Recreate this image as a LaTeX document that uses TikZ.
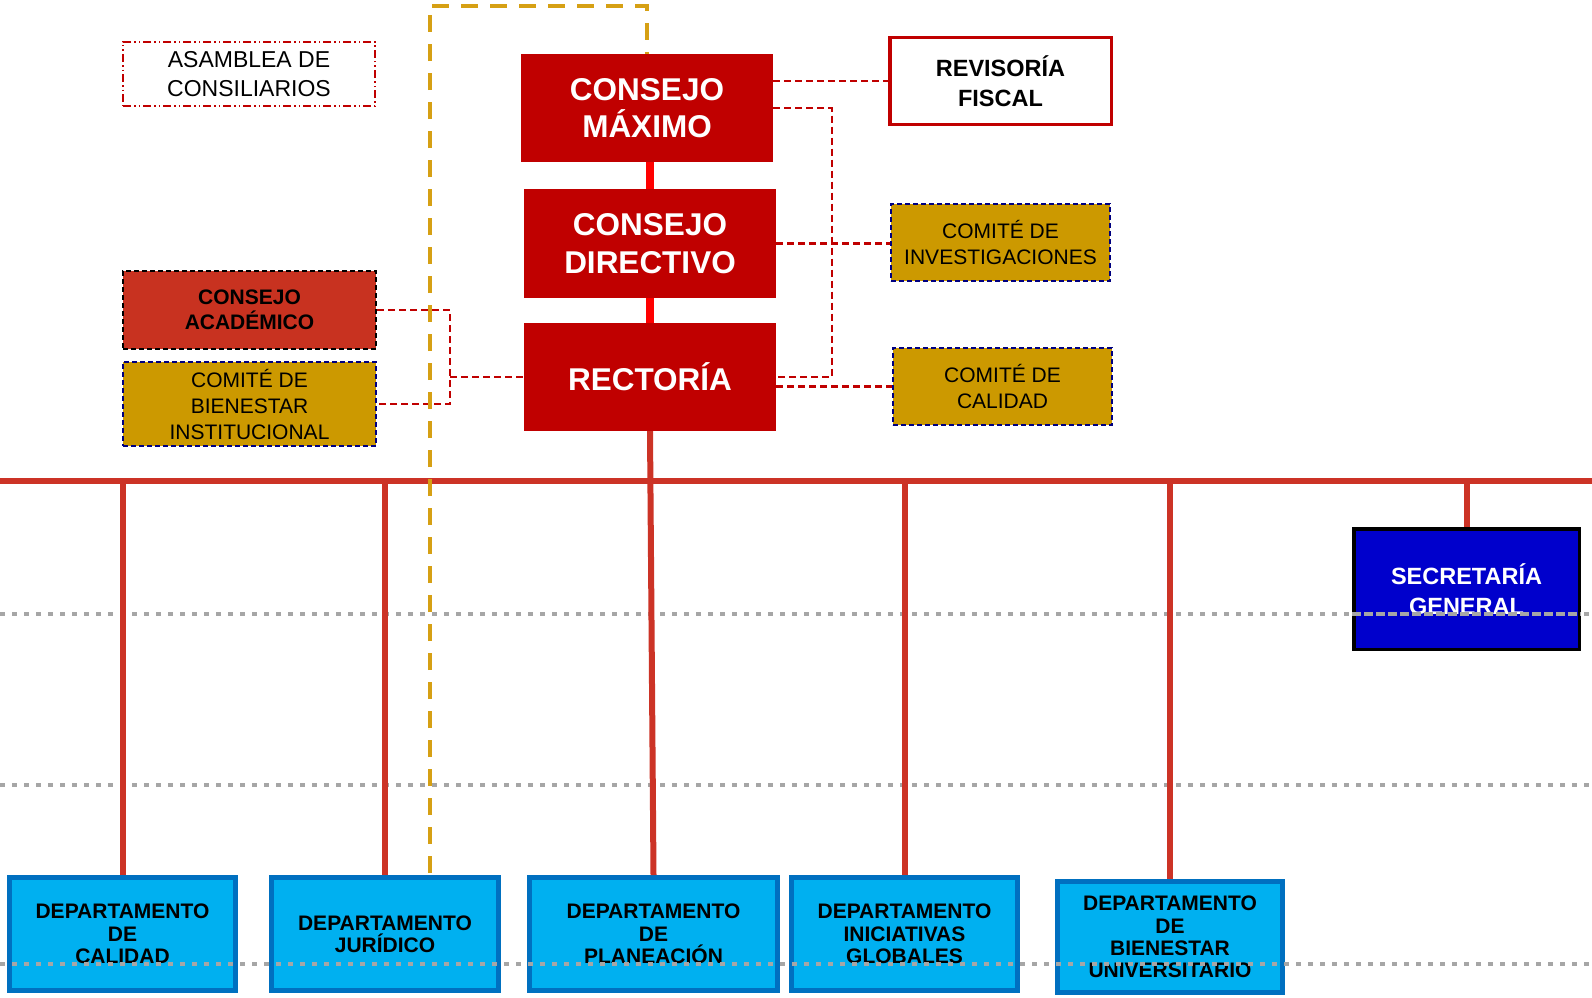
\documentclass[tikz,border=0pt]{standalone}
\usepackage{fontspec}
\setmainfont{Liberation Sans}
\definecolor{rojoosc}{RGB}{192,0,0}
\definecolor{rojovivo}{RGB}{255,0,0}
\definecolor{rojobus}{RGB}{204,51,38}
\definecolor{rojoacad}{RGB}{200,50,32}
\definecolor{oro}{RGB}{204,153,0}
\definecolor{orolinea}{RGB}{214,160,20}
\definecolor{marino}{RGB}{0,0,128}
\definecolor{celeste}{RGB}{0,176,240}
\definecolor{azulborde}{RGB}{0,112,192}
\definecolor{azulsec}{RGB}{0,0,204}
\definecolor{gris}{RGB}{166,166,166}
\begin{document}
\begin{tikzpicture}[x=1pt, y=-1pt, line join=miter,
	mando/.style={fill=rojoosc, text=white, inner sep=0pt, align=center,
		minimum width=252pt, minimum height=108pt,
		font=\fontsize{31.5}{37.5}\selectfont\bfseries},
	comite/.style={fill=oro, draw=marino, line width=2pt, dash pattern=on 5pt off 3pt,
		inner sep=0pt, align=center, minimum width=219pt, minimum height=77pt,
		font=\fontsize{21}{26}\selectfont},
	depto/.style={fill=celeste, draw=azulborde, line width=5pt, inner sep=0pt,
		align=center, minimum width=226pt, minimum height=113pt,
		font=\fontsize{21}{22.3}\selectfont\bfseries},
	enlace/.style={rojoosc, line width=2.4pt, dash pattern=on 7pt off 4pt},
	bus/.style={rojobus, line width=6pt},
	guia/.style={gris, line width=4.5pt, dash pattern=on 4.5pt off 7.5pt}]
	\useasboundingbox (0,0) rectangle (1592,998);
	\node[draw=rojoosc, line width=1.6pt, dash pattern=on 8pt off 3pt on 1.5pt off 3pt on 1.5pt off 3pt,
		minimum width=252pt, minimum height=64pt, inner sep=0pt, align=center,
		font=\fontsize{23}{29.5}\selectfont] (asa) at (249,74) {ASAMBLEA DE\\CONSILIARIOS};
	\node[mando] (cm) at (647,108) {CONSEJO\\MÁXIMO};
	\node[mando, minimum height=109pt] (cd) at (650,243.5) {CONSEJO\\DIRECTIVO};
	\node[mando] (rec) at (650,377) {RECTORÍA};
	\node[draw=rojoosc, line width=3.5pt, minimum width=221.5pt, minimum height=86.5pt,
		inner sep=0pt, align=center, font=\fontsize{23.5}{29.5}\selectfont\bfseries]
		(rev) at (1000.5,81) {REVISORÍA\\FISCAL};
	\node[comite] (ci) at (1000.5,242.5) {COMITÉ DE\\INVESTIGACIONES};
	\node[comite] (cc) at (1002.5,386.5) {COMITÉ DE\\CALIDAD};
	\node[fill=rojoacad, draw=black, line width=2pt, dash pattern=on 5pt off 3pt,
		minimum width=253pt, minimum height=78pt, inner sep=0pt, align=center,
		font=\fontsize{21}{25.4}\selectfont\bfseries] (ca) at (249.5,310) {CONSEJO\\ACADÉMICO};
	\node[comite, minimum width=253pt, minimum height=84pt] (bi) at (249.5,404)
		{COMITÉ DE\\BIENESTAR\\INSTITUCIONAL};
	\node[fill=azulsec, draw=black, line width=3.5pt, text=white, minimum width=225.5pt,
		minimum height=120.5pt, inner sep=0pt, align=center,
		font=\fontsize{23.5}{29.5}\selectfont\bfseries] (sec) at (1466.5,589) {SECRETARÍA\\GENERAL};
	\node[depto] (cal) at (122.5,934) {DEPARTAMENTO\\DE\\CALIDAD};
	\node[depto, minimum width=227pt] (jur) at (385,934) {DEPARTAMENTO\\JURÍDICO};
	\node[depto, minimum width=248pt] (pla) at (653.5,934) {DEPARTAMENTO\\DE\\PLANEACIÓN};
	\node[depto] (ini) at (904.5,934) {DEPARTAMENTO\\INICIATIVAS\\GLOBALES};
	\node[depto, minimum width=225pt, minimum height=111pt] (bun) at (1170,937)
		{DEPARTAMENTO\\DE\\BIENESTAR\\UNIVERSITARIO};
	\draw[rojovivo, line width=8pt] (cd.north |- cm.south) -- (cd.north) (cd.south) -- (rec.north);
	\draw[enlace] (cm.east |- rev.west) -- (rev.west);
	\draw[enlace] (cm.east) -- ++(58.5,0) |- (rec.east);
	\draw[enlace] (cd.east) -- (cd.east -| ci.west);
	\draw[enlace] (rec.east |- cc.west) -- (cc.west);
	\coordinate (jl) at (450,377);
	\draw[enlace] (ca.east) -| (jl) |- (bi.east);
	\draw[enlace] (jl) -- (rec.west);
	\foreach \y in {614,785,964} {
		\draw[guia] (0,\y) -- (1592,\y);
	}
	\coordinate (busL) at (0,481);
	\coordinate (busR) at (1592,481);
	\draw[bus] (busL) -- (busR);
	\draw[bus] (rec.south) -- (pla.north);
	\foreach \n in {cal,jur,ini,bun,sec} {
		\draw[bus] (\n.north |- busL) -- (\n.north);
	}
	\coordinate (gb) at (429.5,873);
	\draw[orolinea, line width=4pt, dash pattern=on 17pt off 12pt]
		(gb) |- ([yshift=48pt]cm.north) -- (cm.north);
	\draw[guia] (0,964) -- (1592,964) (sec.west |- 0,614) -- (sec.east |- 0,614);
\end{tikzpicture}
\end{document}
